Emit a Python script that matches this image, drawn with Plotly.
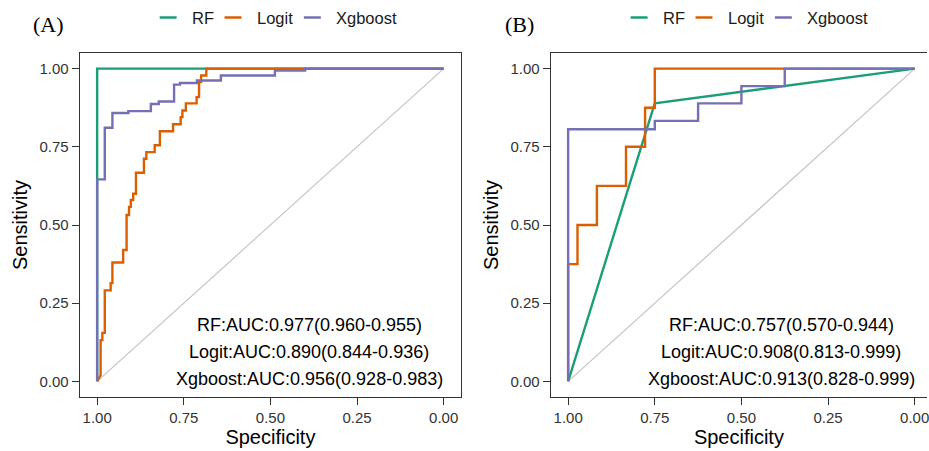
import plotly.graph_objects as go

# ---- ROC coordinates (specificity, sensitivity) ----
model_names = ["RF", "Logit", "Xgboost"]
model_colors = ["#1B9E77", "#D95F02", "#7570B3"]

# Panel A (training set)
rf_a_spec = [1.0, 1.0, 0.0]
rf_a_sens = [0.0, 1.0, 1.0]

logit_a_spec = [1.0, 0.99, 0.99, 0.985, 0.985, 0.978, 0.978, 0.961, 0.961, 0.956, 0.956,
                0.925, 0.925, 0.915, 0.915, 0.908, 0.908, 0.903, 0.903, 0.896, 0.896,
                0.888, 0.888, 0.865, 0.865, 0.858, 0.858, 0.834, 0.834, 0.819, 0.819,
                0.781, 0.781, 0.759, 0.759, 0.754, 0.754, 0.744, 0.744, 0.713, 0.713,
                0.706, 0.706, 0.700, 0.700, 0.685, 0.685, 0.0]
logit_a_sens = [0.0, 0.02, 0.132, 0.132, 0.155, 0.155, 0.291, 0.291, 0.314, 0.314, 0.38,
                0.38, 0.42, 0.42, 0.532, 0.532, 0.558, 0.558, 0.58, 0.58, 0.60,
                0.60, 0.667, 0.667, 0.712, 0.712, 0.733, 0.733, 0.755, 0.755, 0.80,
                0.80, 0.822, 0.822, 0.845, 0.845, 0.866, 0.866, 0.889, 0.889, 0.909,
                0.909, 0.957, 0.957, 0.978, 0.978, 1.0, 1.0]

xgb_a_spec = [1.0, 1.0, 0.978, 0.978, 0.956, 0.956, 0.910, 0.910, 0.845, 0.845, 0.822,
              0.822, 0.778, 0.778, 0.761, 0.761, 0.712, 0.712, 0.643, 0.643, 0.487,
              0.487, 0.400, 0.400, 0.0]
xgb_a_sens = [0.0, 0.646, 0.646, 0.811, 0.811, 0.858, 0.858, 0.864, 0.864, 0.887, 0.887,
              0.895, 0.895, 0.949, 0.949, 0.954, 0.954, 0.962, 0.962, 0.978, 0.978,
              0.994, 0.994, 1.0, 1.0]

# Panel B (validation set)
rf_b_spec = [1.0, 0.75, 0.0]
rf_b_sens = [0.0, 0.889, 1.0]

logit_b_spec = [1.0, 1.0, 0.973, 0.973, 0.917, 0.917, 0.833, 0.833, 0.778, 0.778, 0.75, 0.75, 0.0]
logit_b_sens = [0.0, 0.375, 0.375, 0.5, 0.5, 0.625, 0.625, 0.75, 0.75, 0.875, 0.875, 1.0, 1.0]

xgb_b_spec = [1.0, 1.0, 0.75, 0.75, 0.625, 0.625, 0.5, 0.5, 0.375, 0.375, 0.0]
xgb_b_sens = [0.0, 0.806, 0.806, 0.833, 0.833, 0.889, 0.889, 0.944, 0.944, 1.0, 1.0]

auc_a_labels = ["RF:AUC:0.977(0.960-0.955)",
                "Logit:AUC:0.890(0.844-0.936)",
                "Xgboost:AUC:0.956(0.928-0.983)"]
auc_b_labels = ["RF:AUC:0.757(0.570-0.944)",
                "Logit:AUC:0.908(0.813-0.999)",
                "Xgboost:AUC:0.913(0.828-0.999)"]

tick_vals = [1.0, 0.75, 0.5, 0.25, 0.0]
tick_text = ["1.00", "0.75", "0.50", "0.25", "0.00"]

W, H = 929, 451
FONT = "Arial, Liberation Sans, sans-serif"


def fx(p):
    return p / W


def fy(p):
    return 1 - p / H


panels = [
    dict(xa="x", ya="y", label="(A)", left=80,
         curves=[(rf_a_spec, rf_a_sens), (logit_a_spec, logit_a_sens), (xgb_a_spec, xgb_a_sens)],
         auc=auc_a_labels, auc_x=310),
    dict(xa="x2", ya="y2", label="(B)", left=552,
         curves=[(rf_b_spec, rf_b_sens), (logit_b_spec, logit_b_sens), (xgb_b_spec, xgb_b_sens)],
         auc=auc_b_labels, auc_x=783),
]

fig = go.Figure()
annotations = []
shapes = []

for pnl in panels:
    # chance line
    fig.add_trace(go.Scatter(x=[1, 0], y=[0, 1], mode="lines", xaxis=pnl["xa"], yaxis=pnl["ya"],
                             line=dict(color="#C4C4C4", width=1.2), showlegend=False, hoverinfo="skip"))
    for name, color, (sx, sy) in zip(model_names, model_colors, pnl["curves"]):
        fig.add_trace(go.Scatter(x=sx, y=sy, mode="lines", name=name, xaxis=pnl["xa"], yaxis=pnl["ya"],
                                 line=dict(color=color, width=2.4), showlegend=False))

    # panel tag
    annotations.append(dict(text=pnl["label"], x=fx(pnl["left"] - 31), y=fy(25), xref="paper", yref="paper",
                            showarrow=False, xanchor="center", yanchor="middle",
                            font=dict(family="Liberation Serif, Times New Roman, serif", size=22, color="black")))

    # legend row above the panel
    seg_x = pnl["left"] + 80
    offsets = [(0, 30.5), (65, 96), (144.5, 175)]
    for name, color, (lo, to) in zip(model_names, model_colors, offsets):
        shapes.append(dict(type="line", xref="paper", yref="paper",
                           x0=fx(seg_x + lo), x1=fx(seg_x + lo + 17), y0=fy(17.5), y1=fy(17.5),
                           line=dict(color=color, width=2.5)))
        annotations.append(dict(text=name, x=fx(seg_x + to), y=fy(17.5), xref="paper", yref="paper",
                                showarrow=False, xanchor="left", yanchor="middle",
                                font=dict(family=FONT, size=16.5, color="#1a1a1a")))

    # AUC summary
    for i, txt in enumerate(pnl["auc"]):
        annotations.append(dict(text=txt, x=fx(pnl["auc_x"]), y=fy(325 + 27 * i), xref="paper", yref="paper",
                                showarrow=False, xanchor="center", yanchor="middle",
                                font=dict(family=FONT, size=18, color="black")))

axis_common = dict(
    tickmode="array", tickvals=tick_vals, ticktext=tick_text,
    showgrid=False, zeroline=False, showline=True, linecolor="#333333", linewidth=1.2,
    ticks="outside", ticklen=7, tickwidth=1.2, tickcolor="#333333",
    tickfont=dict(family=FONT, size=15, color="#333333"),
    ticklabeloverflow="allow",
)

y_dom = [fy(397), fy(53)]

fig.update_layout(
    width=W, height=H,
    margin=dict(l=0, r=0, t=0, b=0),
    paper_bgcolor="white", plot_bgcolor="white",
    showlegend=False,
    xaxis=dict(domain=[fx(80), fx(462)], range=[1.05, -0.05], mirror=True, anchor="y",
               title=dict(text="Specificity", font=dict(family=FONT, size=20, color="black"), standoff=2),
               **axis_common),
    yaxis=dict(domain=y_dom, range=[-0.05, 1.05], mirror=True, anchor="x",
               title=dict(text="Sensitivity", font=dict(family=FONT, size=20, color="black"), standoff=6),
               **axis_common),
    xaxis2=dict(domain=[fx(552), 1.0], range=[1.05, -0.0355], mirror=True, anchor="y2",
                title=dict(text="Specificity", font=dict(family=FONT, size=20, color="black"), standoff=2),
                **axis_common),
    yaxis2=dict(domain=y_dom, range=[-0.05, 1.05], mirror=False, anchor="x2",
                title=dict(text="Sensitivity", font=dict(family=FONT, size=20, color="black"), standoff=6),
                **axis_common),
    annotations=annotations,
    shapes=shapes,
)

fig.write_html("out.html")
